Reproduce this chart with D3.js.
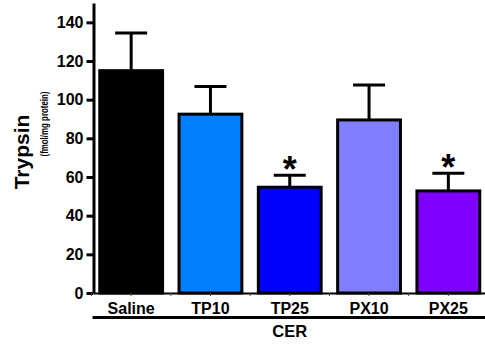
<!DOCTYPE html>
<html>
<head>
<meta charset="utf-8">
<script src="https://cdn.jsdelivr.net/npm/d3@7"></script>
<style>
  body { margin: 0; background: #fff; }
  svg { display: block; font-family: "Liberation Sans", Arial, sans-serif; font-weight: bold; }
</style>
</head>
<body>
<svg id="chart" width="485" height="348"></svg>
<script>
// data
const groups = ['Saline', 'TP10', 'TP25', 'PX10', 'PX25'];
const means = [115, 92.5, 54.7, 89.5, 52.8];
const sems = [19.5, 14.3, 6.2, 18.1, 9.1];
const significant = [false, false, true, false, true];
const barColors = ['#000000', '#0080ff', '#0000ff', '#8080ff', '#8000ff'];
const yTicks = [0, 20, 40, 60, 80, 100, 120, 140];

const svg = d3.select('#chart');
const x0 = 93.5, x1 = 486, yBase = 293, yTop = 3;

const x = d3.scaleBand()
    .domain(groups)
    .range([x0, x1])
    .paddingInner(0.17)
    .paddingOuter(0.06);

const y = d3.scaleLinear()
    .domain([0, 150])
    .range([yBase, yTop]);

// y axis
const yAxis = svg.append('g')
    .attr('transform', `translate(${x0},0)`)
    .call(d3.axisLeft(y).tickValues(yTicks).tickSize(7).tickPadding(3).tickSizeOuter(0));
yAxis.select('.domain').attr('stroke-width', 3);
yAxis.selectAll('.tick line').attr('stroke-width', 3);
yAxis.selectAll('.tick text').attr('font-size', 16).attr('font-weight', 'bold').attr('fill', '#000');

// bars
const bars = svg.append('g')
    .selectAll('g')
    .data(groups)
    .enter()
    .append('g');

bars.append('rect')
    .attr('x', d => x(d) + 1.5)
    .attr('width', x.bandwidth() - 3)
    .attr('y', (d, i) => y(means[i]))
    .attr('height', (d, i) => yBase - y(means[i]))
    .attr('fill', (d, i) => barColors[i])
    .attr('stroke', '#000')
    .attr('stroke-width', 3);

// error bars (upper only)
bars.append('line')
    .attr('x1', d => x(d) + x.bandwidth() / 2)
    .attr('x2', d => x(d) + x.bandwidth() / 2)
    .attr('y1', (d, i) => y(means[i]))
    .attr('y2', (d, i) => y(means[i] + sems[i]))
    .attr('stroke', '#000')
    .attr('stroke-width', 3);

bars.append('line')
    .attr('x1', d => x(d) + x.bandwidth() / 2 - 16)
    .attr('x2', d => x(d) + x.bandwidth() / 2 + 16)
    .attr('y1', (d, i) => y(means[i] + sems[i]))
    .attr('y2', (d, i) => y(means[i] + sems[i]))
    .attr('stroke', '#000')
    .attr('stroke-width', 3);

bars.filter((d, i) => significant[i])
    .append('text')
    .attr('x', d => x(d) + x.bandwidth() / 2)
    .attr('y', d => y(means[groups.indexOf(d)] + sems[groups.indexOf(d)]) + 7)
    .attr('text-anchor', 'middle')
    .attr('font-size', 36)
    .text('*');

// x axis
const xAxis = svg.append('g')
    .attr('transform', `translate(0,${yBase})`)
    .call(d3.axisBottom(x).tickSize(3).tickPadding(7).tickSizeOuter(0));
xAxis.select('.domain').attr('stroke-width', 2);
xAxis.selectAll('.tick line').attr('stroke', '#444');
xAxis.selectAll('.tick text').attr('font-size', 16).attr('font-weight', 'bold').attr('fill', '#000');

// minor ticks between bars
svg.append('g')
    .selectAll('line')
    .data(groups)
    .enter()
    .append('line')
    .attr('x1', d => x(d) - x.step() * x.paddingInner() / 2)
    .attr('x2', d => x(d) - x.step() * x.paddingInner() / 2)
    .attr('y1', yBase)
    .attr('y2', yBase + 3)
    .attr('stroke', '#444');

// group bracket
svg.append('line')
    .attr('x1', x0 - 1)
    .attr('x2', x1)
    .attr('y1', 317.5)
    .attr('y2', 317.5)
    .attr('stroke', '#000')
    .attr('stroke-width', 3);

svg.append('text')
    .attr('x', (x0 + x1) / 2)
    .attr('y', 337)
    .attr('text-anchor', 'middle')
    .attr('font-size', 16.5)
    .text('CER');

// y titles
svg.append('text')
    .attr('transform', 'translate(29,152) rotate(-90)')
    .attr('text-anchor', 'middle')
    .attr('font-size', 21)
    .text('Trypsin');

svg.append('text')
    .attr('transform', 'translate(48,124) rotate(-90)')
    .attr('text-anchor', 'middle')
    .attr('font-size', 11.5)
    .attr('textLength', 65)
    .attr('lengthAdjust', 'spacingAndGlyphs')
    .text('(fmol/mg protein)');
</script>
</body>
</html>
